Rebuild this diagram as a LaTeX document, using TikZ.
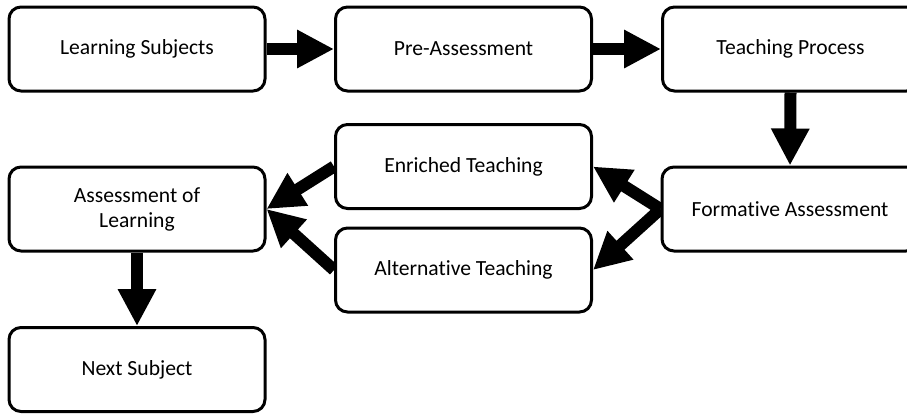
\documentclass[tikz,border=0pt]{standalone}
\usepackage{fontspec}
\setmainfont[Ligatures=CommonOff]{Carlito}
\usetikzlibrary{arrows.meta,backgrounds}

\begin{document}
\begin{tikzpicture}[x=1pt,y=-1pt,
  stage/.style={draw=black, line width=3pt, rounded corners=12pt, fill=white,
    minimum width=256pt, minimum height=84pt, inner sep=0pt,
    align=center, font=\fontsize{21.6}{25}\selectfont},
  blockarrow/.style={line width=12pt,
    -{Triangle[length=37pt,width=36pt]}}]
  \useasboundingbox (0,0) rectangle (907,416);
  \clip (0,0) rectangle (907,416);

  % process stages
  \node[stage] (ls)  at (137,49)    {Learning Subjects};
  \node[stage] (pa)  at (463.5,49)  {Pre-Assessment};
  \node[stage] (tp)  at (790.5,49)  {Teaching Process};
  \node[stage] (fa)  at (790,209)   {Formative Assessment};
  \node[stage] (et)  at (463.5,166.5) {Enriched Teaching};
  \node[stage] (at)  at (463.5,270) {Alternative Teaching};
  \node[stage] (aol) at (137,209)   {Assessment of\\Learning};
  \node[stage] (ns)  at (137,369.5) {Next Subject};

  % flow arrows, kept under the boxes
  \begin{pgfonlayer}{background}
    \draw[blockarrow] (ls.east) -- (pa.west);
    \draw[blockarrow] (pa.east) -- (tp.west);
    \draw[blockarrow] (tp.south) -- (fa.north);
    \draw[blockarrow] (fa.west) -- (et.east);
    \draw[blockarrow] (fa.west) -- (at.east);
    \draw[blockarrow] (et.west) -- (aol.east);
    \draw[blockarrow] (at.west) -- (aol.east);
    \draw[blockarrow] (aol.south) -- (ns.north);
  \end{pgfonlayer}
\end{tikzpicture}
\end{document}
